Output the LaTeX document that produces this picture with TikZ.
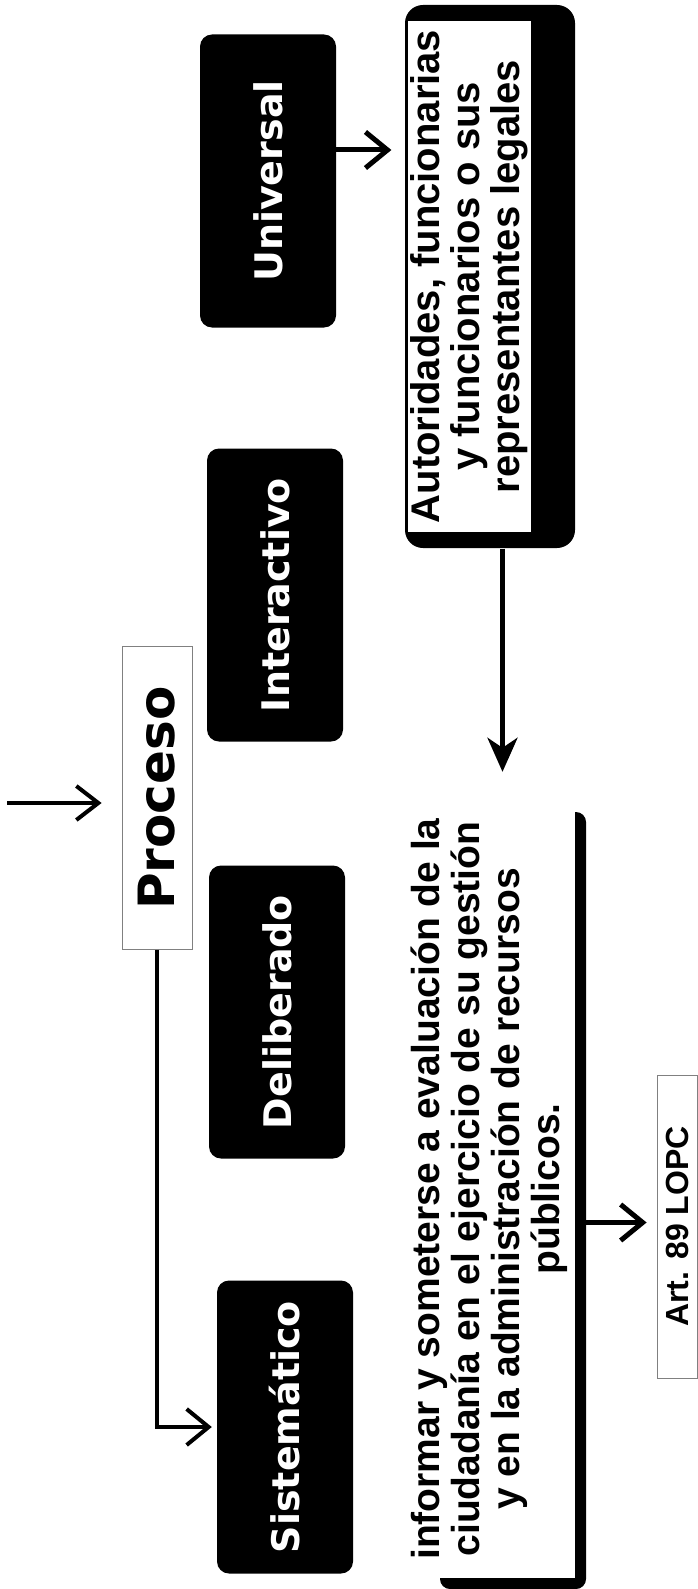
\documentclass[tikz,border=0pt]{standalone}
\usepackage{fontspec}
\newfontfamily\cajafont{DejaVu Sans}
\newfontfamily\textofont{Liberation Sans}
\usetikzlibrary{arrows.meta, calc}

\begin{document}
\begin{tikzpicture}[x=1pt, y=-1pt,
  etapa/.style={rectangle, rounded corners=12pt, fill=black, text=white, inner sep=0pt,
    minimum width=293pt, minimum height=136pt, rotate=90, text height=28pt, text depth=0pt,
    font=\cajafont\bfseries\fontsize{38}{44}\selectfont},
  rotulo/.style={rectangle, draw=black!50, line width=0.8pt, fill=white, inner sep=0pt,
    rotate=90, font=\cajafont\bfseries\fontsize{50}{56}\selectfont},
  cuadro/.style={rectangle, fill=white, inner sep=0pt, rotate=90, align=center,
    font=\textofont\bfseries\fontsize{39}{40}\selectfont},
  flecha/.style={line width=5pt, -{Straight Barb[length=22pt, width=36pt]}},
  flecha larga/.style={line width=4.5pt, -{Stealth[length=34pt, width=30pt, inset=10pt]}},
  flecha fina/.style={line width=4pt, -{Straight Barb[length=22pt, width=34pt]}}]
\useasboundingbox (0,0) rectangle (698,1589);

%sombras
\fill[rounded corners=18pt] (405,5) rectangle (575,548);
\fill[rounded corners=10pt] (440,812) rectangle (586,1589);

%etapas
\node[etapa] (universal) at (268,181) {Universal};
\node[etapa] (interactivo) at (275,595) {Interactivo};
\node[etapa] (deliberado) at (277,1012) {Deliberado};
\node[etapa] (sistematico) at (285,1427) {Sistemático};

\node[rotulo, minimum width=303pt, minimum height=70pt] (proceso) at (157,798) {Proceso};

%cuadros de texto
\node[cuadro, draw, line width=1.2pt, minimum width=513pt, minimum height=125pt,
  font=\textofont\bfseries\fontsize{40}{40}\selectfont] (autoridades) at (469.5,276.5)
  {Autoridades, funcionarias\\y funcionarios o sus\\representantes legales};
\node[cuadro, minimum width=778pt, minimum height=172pt] (informar) at (489,1189)
  {informar y someterse a evaluación de la\\ciudadanía en el ejercicio de su gestión\\y en la administración de recursos\\públicos.};
\node[rotulo, font=\textofont\bfseries\fontsize{32}{36}\selectfont,
  minimum width=303pt, minimum height=40pt] (art) at (677,1226.5) {Art. 89 LOPC};

%flechas
\coordinate (entrada) at (7,803);
\draw[flecha fina, shorten >=20pt] (entrada) -- (entrada -| proceso.north);
\draw[flecha, line width=4pt, shorten >=5pt] (proceso.west) |- (sistematico.north);

\coordinate (u1) at ($(universal.south)+(0,-31)$);
\draw[flecha, shorten >=15pt] (u1) -- (u1 -| autoridades.north);

\coordinate (a1) at ($(autoridades.west)+(33,15)$);
\draw[flecha larga, shorten >=28pt] (a1) -- (a1 |- informar.east);

\coordinate (i1) at ($(informar.south |- art.north)+(11,-4)$);
\draw[flecha, shorten >=10pt] (i1) -- (i1 -| art.north);
\end{tikzpicture}
\end{document}
